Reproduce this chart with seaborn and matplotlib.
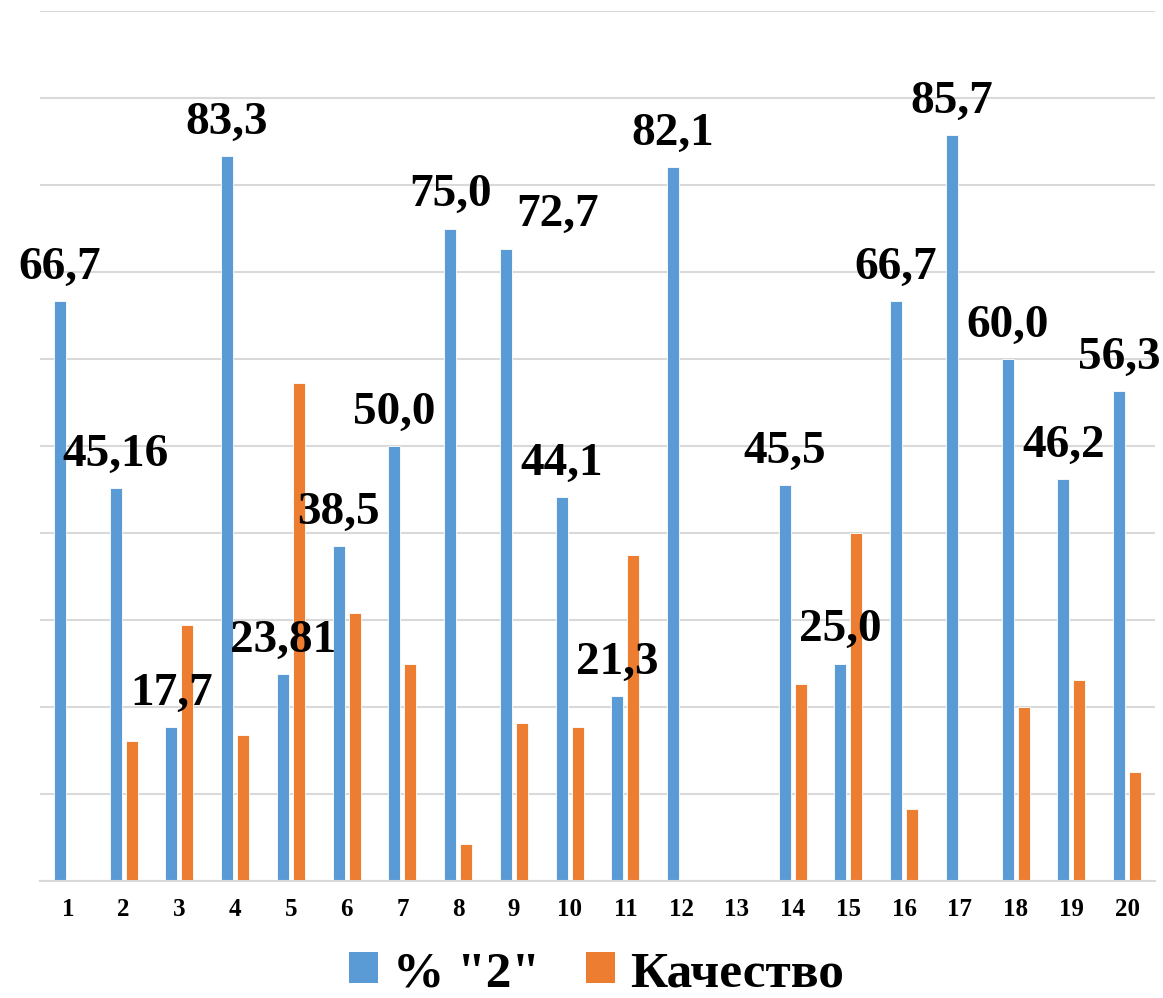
import matplotlib
matplotlib.use("Agg")
import matplotlib.pyplot as plt
from matplotlib.patches import Patch
import seaborn as sns
import pandas as pd

categories = [str(i) for i in range(1, 21)]
series_names = ['% "2"', 'Качество']
share_2 = [66.7, 45.16, 17.7, 83.3, 23.81, 38.5, 50.0, 75.0, 72.7, 44.1,
           21.3, 82.1, 0.0, 45.5, 25.0, 66.7, 85.7, 60.0, 46.2, 56.3]
quality = [0.0, 16.1, 29.4, 16.8, 57.2, 30.8, 25.0, 4.2, 18.2, 17.7,
           37.5, 0.0, 0.0, 22.7, 40.0, 8.3, 0.0, 20.0, 23.1, 12.5]
share_2_labels = ['66,7', '45,16', '17,7', '83,3', '23,81', '38,5', '50,0', '75,0',
                  '72,7', '44,1', '21,3', '82,1', '', '45,5', '25,0', '66,7',
                  '85,7', '60,0', '46,2', '56,3']

colors = ['#5B9BD5', '#ED7D31']

df = pd.DataFrame({
    'cat': categories * 2,
    'series': [series_names[0]] * 20 + [series_names[1]] * 20,
    'value': share_2 + quality,
})

sns.set_theme(style='white')
plt.rcParams['font.family'] = ['Liberation Serif', 'DejaVu Serif']
plt.rcParams['font.weight'] = 'bold'
plt.rcParams['text.color'] = 'black'
plt.rcParams['xtick.color'] = 'black'

fig = plt.figure(figsize=(11.63, 9.98), dpi=100)
ax = fig.add_axes([40 / 1163, 1 - 881 / 998, 1115 / 1163, 870 / 998])

sns.barplot(data=df, x='cat', y='value', hue='series', order=categories,
            hue_order=series_names, palette=colors, saturation=1,
            width=0.574, gap=0.25, edgecolor='white', linewidth=0.6,
            legend=False, ax=ax)

ax.set_xlim(-0.5, 19.5)
ax.set_ylim(0, 100)
ax.set_yticks(range(0, 101, 10))
ax.set_yticklabels([])
ax.yaxis.grid(True, color='#d9d9d9', linewidth=1.5)
ax.set_axisbelow(True)
for s in ['top', 'right', 'left']:
    ax.spines[s].set_visible(False)
ax.spines['bottom'].set_color('#d9d9d9')
ax.spines['bottom'].set_linewidth(1.5)
ax.tick_params(axis='x', length=0, pad=12, labelsize=18, labelcolor='black')
ax.tick_params(axis='y', length=0)
for t in ax.get_xticklabels():
    t.set_fontweight('bold')
ax.set_xlabel('')
ax.set_ylabel('')

# data labels over blue bars (label of category 9 is shifted right, as in the source)
shift_pts = {8: 37}
blue_container = ax.containers[0]
for i, (rect, lab) in enumerate(zip(blue_container.patches, share_2_labels)):
    if not lab:
        continue
    x = rect.get_x() + rect.get_width() / 2
    y = rect.get_height()
    ax.annotate(lab, (x, y), xytext=(shift_pts.get(i, 0), 16),
                textcoords='offset points', ha='center', va='baseline',
                fontsize=34, fontweight='bold', color='black',
                annotation_clip=False)

handles = [Patch(facecolor=c, edgecolor='none') for c in colors]
leg = fig.legend(handles, series_names, loc='center', bbox_to_anchor=(0.513, 0.024),
                 ncol=2, frameon=False, prop={'size': 37, 'weight': 'bold'},
                 handlelength=0.55, handleheight=0.55, handletextpad=0.3,
                 columnspacing=0.9, borderpad=0)
for t in leg.get_texts():
    t.set_color('black')

fig.savefig('out.png', dpi=100)
